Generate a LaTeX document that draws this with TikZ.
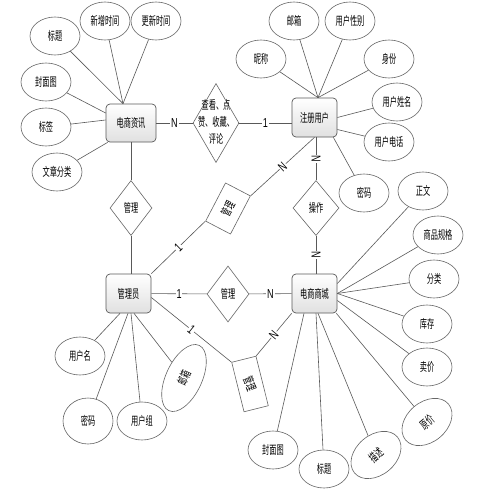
\documentclass[tikz,border=0pt]{standalone}
\usepackage{fontspec}
\setmainfont{Liberation Sans}
\newfontfamily\cjk{Noto Sans CJK SC}
\usetikzlibrary{shapes.geometric}
\newcommand{\czh}[1]{\scalebox{0.6}[1]{\cjk\fontsize{12}{17}\selectfont #1}}
\newcommand{\lab}[1]{\scalebox{0.7}[1]{\fontsize{13}{13}\selectfont #1}}
\begin{document}
\begin{tikzpicture}[x=1pt,y=-1pt,
  attr/.style={ellipse, draw=black!60, line width=0.6pt, minimum width=50pt, minimum height=38pt, inner sep=0pt, fill=white},
  ent/.style={rectangle, rounded corners=4pt, draw=black!65, line width=0.7pt, top color=white, bottom color=black!12, minimum width=45pt, minimum height=39pt, inner sep=0pt},
  rel/.style={diamond, draw=black!60, line width=0.6pt, inner sep=0pt, fill=white},
  rbox/.style={rectangle, draw=black!60, line width=0.6pt, inner sep=0pt, fill=white},
  conn/.style={draw=black!65, line width=0.6pt},
  card/.style={fill=white, inner sep=0.8pt},
  txt/.style={inner sep=0pt}]
\fill[white] (0,0) rectangle (501,493);
\useasboundingbox (0,0) rectangle (501,493);

% entities
\node[ent, minimum width=50pt, minimum height=38pt] (zx) at (131,123) {\czh{电商资讯}};
\node[ent] (zc) at (314.5,117.5) {\czh{注册用户}};
\node[ent] (gly) at (128.5,293.5) {\czh{管理员}};
\node[ent] (sc) at (314.5,293.5) {\czh{电商商城}};

% relationships
\node[rel, minimum width=46pt, minimum height=79pt] (d1) at (216,123) {};
\node[txt] (d1t) at (d1.center) {\czh{\begin{tabular}{@{}c@{}}查看、点\\赞、收藏、\\评论\end{tabular}}};
\node[rel, minimum width=42pt, minimum height=55pt] (d2) at (131,208) {\czh{管理}};
\node[rel, minimum width=42pt, minimum height=56pt] (d3) at (228,294) {\czh{管理}};
\node[rel, minimum width=46pt, minimum height=55pt] (d4) at (316,208) {\czh{操作}};
\node[rbox, minimum width=28pt, minimum height=43pt, rotate=-27.5] (r1) at (228,208.5) {};
\node[txt, rotate=62.5] (r1t) at (r1.center) {\czh{管理}};
\node[rbox, minimum width=25pt, minimum height=51pt, rotate=14] (r2) at (250,384) {};
\node[txt, rotate=-70] (r2t) at (r2.center) {\czh{管理}};

% attributes of 电商资讯
\node[attr] (a1) at (55,36) {\czh{标题}};
\node[attr] (a2) at (105,21) {\czh{新增时间}};
\node[attr] (a3) at (156,21) {\czh{更新时间}};
\node[attr] (a4) at (46,82) {\czh{封面图}};
\node[attr] (a5) at (46,127) {\czh{标签}};
\node[attr] (a6) at (57,172) {\czh{文章分类}};
% attributes of 注册用户
\node[attr] (b1) at (261,59) {\czh{昵称}};
\node[attr] (b2) at (294,21) {\czh{邮箱}};
\node[attr] (b3) at (350,21) {\czh{用户性别}};
\node[attr] (b4) at (389,59) {\czh{身份}};
\node[attr] (b5) at (397,102) {\czh{用户姓名}};
\node[attr] (b6) at (389,142) {\czh{用户电话}};
\node[attr] (b7) at (364,193) {\czh{密码}};
% attributes of 电商商城
\node[attr] (c1) at (423,191) {\czh{正文}};
\node[attr] (c2) at (438,235) {\czh{商品规格}};
\node[attr] (c3) at (434,279) {\czh{分类}};
\node[attr] (c4) at (427,324) {\czh{库存}};
\node[attr] (c5) at (427,367) {\czh{卖价}};
\node[attr, minimum width=56pt, minimum height=40pt, rotate=40] (c6) at (427,422) {\czh{原价}};
\node[attr, minimum width=56pt, minimum height=40pt, rotate=40] (c7) at (376,455) {\czh{描述}};
\node[attr] (c8) at (324,469) {\czh{标题}};
\node[attr] (c9) at (273,450) {\czh{封面图}};
% attributes of 管理员
\node[attr] (e1) at (80,356) {\czh{用户名}};
\node[attr, minimum height=46pt] (e2) at (88,421) {\czh{密码}};
\node[attr] (e3) at (142,421) {\czh{用户组}};
\node[attr, minimum width=72pt, minimum height=36pt, rotate=65] (e4) at (184,378) {\czh{邮箱}};

% connection points
\coordinate (zxT) at ([xshift=-8pt]zx.north);
\coordinate (zxL1) at ([yshift=10pt]zx.west);
\coordinate (zxL2) at ([yshift=3pt]zx.west);
\coordinate (zxL3) at ([xshift=2pt]zx.south west);
\coordinate (zcT) at ([xshift=3.5pt]zc.north);
\coordinate (zcR1) at (zc.east);
\coordinate (zcR2) at ([yshift=-12pt]zc.east);
\coordinate (zcB) at ([xshift=-4pt]zc.south east);
\coordinate (scR1) at ([yshift=10pt]sc.east);
\coordinate (scR2) at (sc.east);
\coordinate (scR3) at ([yshift=-7pt]sc.east);
\coordinate (scB1) at ([xshift=-1pt]sc.south east);
\coordinate (scB2) at ([xshift=3.5pt]sc.south);
\coordinate (scB3) at ([xshift=1.5pt]sc.south);
\coordinate (scB4) at ([xshift=-10.5pt]sc.south);
\coordinate (glB1) at ([xshift=-8.5pt]gly.south);
\coordinate (glB2) at ([xshift=-0.5pt]gly.south);
\coordinate (glB3) at ([xshift=2.5pt]gly.south);
\coordinate (glB4) at ([xshift=5.5pt]gly.south);

% attribute lines
\draw[conn] (a1) -- (zxT);
\draw[conn] (a2) -- (zxT);
\draw[conn] (a3) -- (zxT);
\draw[conn] (a4) -- (zxL1);
\draw[conn] (a5) -- (zxL2);
\draw[conn] (a6) -- (zxL3);
\draw[conn] (b1) -- (zcT);
\draw[conn] (b2) -- (zcT);
\draw[conn] (b3) -- (zcT);
\draw[conn] (b4) -- (zcT);
\draw[conn] (b5) -- (zcR1);
\draw[conn] (b6) -- (zcR2);
\draw[conn] (b7) -- (zcB);
\draw[conn] (c1) -- (scR1);
\draw[conn] (c2) -- (scR2);
\draw[conn] (c3) -- (scR2);
\draw[conn] (c4) -- (scR2);
\draw[conn] (c5) -- (scR3);
\draw[conn] (c6) -- (scB1);
\draw[conn] (c7) -- (scB2);
\draw[conn] (c8) -- (scB3);
\draw[conn] (c9) -- (scB4);
\draw[conn] (e1) -- (glB1);
\draw[conn] (e2) -- (glB2);
\draw[conn] (e3) -- (glB3);
\draw[conn] (e4) -- (glB4);

% relationship lines
\draw[conn] (zx) -- node[card]{\lab{N}} (d1);
\draw[conn] (d1.east) -- node[card]{\lab{1}} (d1.east -| zc.west);
\draw[conn] (zx) -- (d2);
\draw[conn] (d2.south) -- (d2.south |- gly.north);
\draw[conn] (gly) -- node[card]{\lab{1}} (d3);
\draw[conn] (d3) -- node[card]{\lab{N}} (sc);
\draw[conn] (d4.north |- zc.south) -- node[card, sloped]{\lab{N}} (d4.north);
\draw[conn] (d4.south) -- node[card, sloped]{\lab{N}} (d4.south |- sc.north);
\draw[conn] (gly.north east) -- node[card, sloped]{\lab{1}} (r1.south west);
\draw[conn] (r1.north east) -- node[card, sloped]{\lab{N}} (zc.south);
\draw[conn] ([yshift=-4pt]gly.east) -- node[card, sloped]{\lab{1}} (r2.north west);
\draw[conn] (r2.north east) -- node[card, sloped]{\lab{N}} (sc.south west);
\end{tikzpicture}
\end{document}
